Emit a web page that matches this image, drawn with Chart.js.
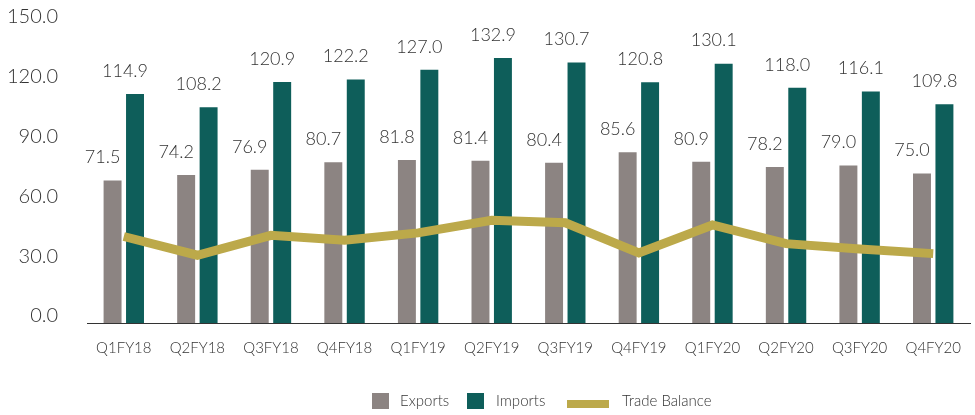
<!DOCTYPE html>
<html>
<head>
<meta charset="utf-8">
<script src="https://cdn.jsdelivr.net/npm/chart.js@4"></script>
<style>
  html, body { margin: 0; padding: 0; background: #fff; }
  #wrap { width: 975px; height: 415px; position: relative; }
</style>
</head>
<body>
<div id="wrap"><canvas id="grafico"></canvas></div>
<script>
var quarters = ["Q1FY18", "Q2FY18", "Q3FY18", "Q4FY18", "Q1FY19", "Q2FY19", "Q3FY19", "Q4FY19", "Q1FY20", "Q2FY20", "Q3FY20", "Q4FY20"];

var exportsData = [71.5, 74.2, 76.9, 80.7, 81.8, 81.4, 80.4, 85.6, 80.9, 78.2, 79.0, 75.0];

var importsData = [114.9, 108.2, 120.9, 122.2, 127.0, 132.9, 130.7, 120.8, 130.1, 118.0, 116.1, 109.8];

var tradeBalance = [43.4, 34.0, 44.0, 41.5, 45.2, 51.5, 50.3, 35.2, 49.2, 39.8, 37.1, 34.8];

var corExports = "#8c8482";
var corImports = "#0e5e5a";
var corBalance = "#bca94a";
var fonte = "Lato, 'Open Sans', sans-serif";

// rotulos em cima das barras
var rotulos = {
    id: "rotulos",
    afterDatasetsDraw: function (chart) {
        var ctx = chart.ctx;
        ctx.save();
        ctx.font = "300 18px " + fonte;
        ctx.fillStyle = "#333";
        ctx.textAlign = "center";
        ctx.textBaseline = "middle";
        [0, 1].forEach(function (d) {
            var meta = chart.getDatasetMeta(d);
            meta.data.forEach(function (bar, i) {
                var v = chart.data.datasets[d].data[i];
                ctx.fillText(v.toFixed(1), bar.x - 10, bar.y - 23);
            });
        });
        ctx.restore();
    }
};

// legenda desenhada na mao
var legenda = {
    id: "legenda",
    afterDraw: function (chart) {
        var ctx = chart.ctx;
        ctx.save();
        ctx.font = "300 15px " + fonte;
        ctx.textBaseline = "middle";
        var y = 401;
        ctx.fillStyle = corExports;
        ctx.fillRect(372, y - 8, 17, 16);
        ctx.fillStyle = "#333";
        ctx.fillText("Exports", 400, y);
        ctx.fillStyle = corImports;
        ctx.fillRect(467, y - 8, 17, 16);
        ctx.fillStyle = "#333";
        ctx.fillText("Imports", 496, y);
        ctx.fillStyle = corBalance;
        ctx.fillRect(567, y - 1, 42, 8);
        ctx.fillStyle = "#333";
        ctx.fillText("Trade Balance", 622, y);
        ctx.restore();
    }
};

var grafico = new Chart(document.querySelector("#grafico").getContext("2d"), {
    data: {
        labels: quarters,
        datasets: [{
            type: "bar",
            label: "Exports",
            backgroundColor: corExports,
            data: exportsData,
            barPercentage: 0.8,
            categoryPercentage: 0.61,
            order: 2
        },
        {
            type: "bar",
            label: "Imports",
            backgroundColor: corImports,
            data: importsData,
            barPercentage: 0.8,
            categoryPercentage: 0.61,
            order: 2
        },
        {
            type: "line",
            label: "Trade Balance",
            borderColor: corBalance,
            backgroundColor: corBalance,
            data: tradeBalance,
            borderWidth: 9,
            pointRadius: 0,
            tension: 0,
            order: 1
        }]
    },
    options: {
        responsive: true,
        maintainAspectRatio: false,
        animation: false,
        layout: { padding: { top: 24, right: 5, bottom: 50, left: 8 } },
        plugins: {
            legend: { display: false },
            tooltip: { enabled: false }
        },
        scales: {
            x: {
                grid: { display: false },
                border: { display: true, color: "#333", width: 1 },
                ticks: { color: "#333", font: { family: fonte, size: 15, weight: "300" }, padding: 8, maxRotation: 0 }
            },
            y: {
                min: 0,
                max: 150,
                grid: { display: false, drawTicks: false },
                border: { display: false },
                afterFit: function (scale) {
                    scale.width = 79;
                    scale.paddingTop = 0;
                    scale.paddingBottom = 0;
                },
                ticks: {
                    stepSize: 30,
                    color: "#333",
                    font: { family: fonte, size: 20, weight: "300" },
                    padding: 29,
                    labelOffset: -7,
                    callback: function (v) { return v.toFixed(1); }
                }
            }
        }
    },
    plugins: [rotulos, legenda]
});
</script>
</body>
</html>
